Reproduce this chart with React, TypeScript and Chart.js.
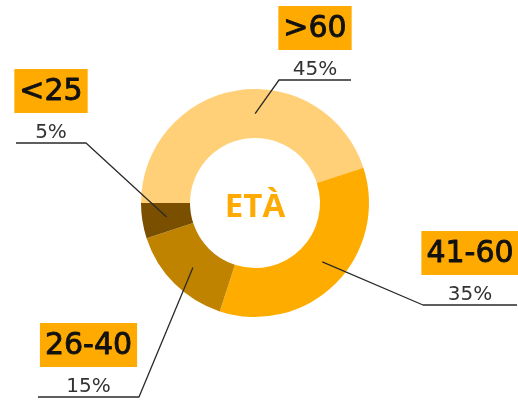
import React, { useEffect, useRef } from 'react';
import { Chart, registerables } from 'chart.js';

Chart.register(...registerables);

// ---- data ----
const categories = ['>60', '41-60', '26-40', '<25'];
const values = [45, 35, 15, 5];
const percentLabels = ['45%', '35%', '15%', '5%'];
const centerTitle = 'ETÀ';

// ---- style / layout ----
const colors = ['#FFD077', '#FFAC00', '#C08300', '#7A5000'];
const boxColor = '#FFAA00';
const FONT = '"Open Sans", "Noto Sans", sans-serif';
const LABEL_FONT = '"DejaVu Sans", sans-serif';
// callout: fraction along the arc for the anchor, elbow point, horizontal end x
const callouts = [
  { frac: 0.556, elbow: [279, 80], endX: 351 },
  { frac: 0.47, elbow: [423, 305], endX: 517 },
  { frac: 0.48, elbow: [139, 397], endX: 38 },
  { frac: 0.5, elbow: [86, 143], endX: 16 },
];

const calloutPlugin = {
  id: 'callouts',
  afterDraw(chart: any) {
    const ctx = chart.ctx as CanvasRenderingContext2D;
    const meta = chart.getDatasetMeta(0);
    ctx.save();
    meta.data.forEach((arc: any, i: number) => {
      const p = arc.getProps(['x', 'y', 'startAngle', 'endAngle', 'innerRadius', 'outerRadius'], true);
      const c = callouts[i];
      const ang = p.startAngle + (p.endAngle - p.startAngle) * c.frac;
      const r = (p.innerRadius + p.outerRadius) / 2;
      const ax = p.x + Math.cos(ang) * r;
      const ay = p.y + Math.sin(ang) * r;
      const [ex, ey] = c.elbow;
      ctx.strokeStyle = '#2a2a2a';
      ctx.lineWidth = 1.3;
      ctx.beginPath();
      ctx.moveTo(ax, ay);
      ctx.lineTo(ex, ey);
      ctx.lineTo(c.endX, ey);
      ctx.stroke();
      const cx = (ex + c.endX) / 2;
      // percent text
      ctx.fillStyle = '#333333';
      ctx.font = `normal 20px ${LABEL_FONT}`;
      ctx.textAlign = 'center';
      ctx.textBaseline = 'alphabetic';
      ctx.fillText(percentLabels[i], cx, ey - 5);
      // category box
      ctx.font = `normal 30px ${LABEL_FONT}`;
      const w = ctx.measureText(categories[i]).width + 10;
      const boxBottom = ey - 30;
      const boxH = 44;
      ctx.fillStyle = boxColor;
      ctx.fillRect(cx - w / 2, boxBottom - boxH, w, boxH);
      ctx.fillStyle = '#111111';
      ctx.strokeStyle = '#111111';
      ctx.lineWidth = 0.9;
      ctx.lineJoin = 'round';
      ctx.textBaseline = 'middle';
      ctx.fillText(categories[i], cx, boxBottom - boxH / 2 + 1);
      ctx.strokeText(categories[i], cx, boxBottom - boxH / 2 + 1);
    });
    // center title
    const a0 = meta.data[0];
    ctx.fillStyle = '#FFAA00';
    ctx.font = `bold 33px ${FONT}`;
    ctx.textAlign = 'center';
    ctx.textBaseline = 'middle';
    ctx.fillText(centerTitle, a0.x, a0.y + 5);
    ctx.restore();
  },
};

export default function App() {
  const ref = useRef<HTMLCanvasElement | null>(null);
  useEffect(() => {
    if (!ref.current) return;
    const chart = new Chart(ref.current, {
      type: 'doughnut',
      data: {
        labels: categories,
        datasets: [
          {
            data: values,
            backgroundColor: colors,
            borderWidth: 0,
          },
        ],
      },
      options: {
        responsive: false,
        maintainAspectRatio: false,
        animation: false,
        rotation: -90,
        cutout: '57%',
        layout: { padding: { left: 141, right: 149, top: 89, bottom: 84 } },
        plugins: {
          legend: { display: false },
          tooltip: { enabled: false },
        },
      },
      plugins: [calloutPlugin],
    });
    return () => chart.destroy();
  }, []);
  return (
    <div style={{ position: 'fixed', left: 0, top: 0, width: 518, height: 401, background: '#fff' }}>
      <canvas ref={ref} width={518} height={401} style={{ width: 518, height: 401 }} />
    </div>
  );
}
